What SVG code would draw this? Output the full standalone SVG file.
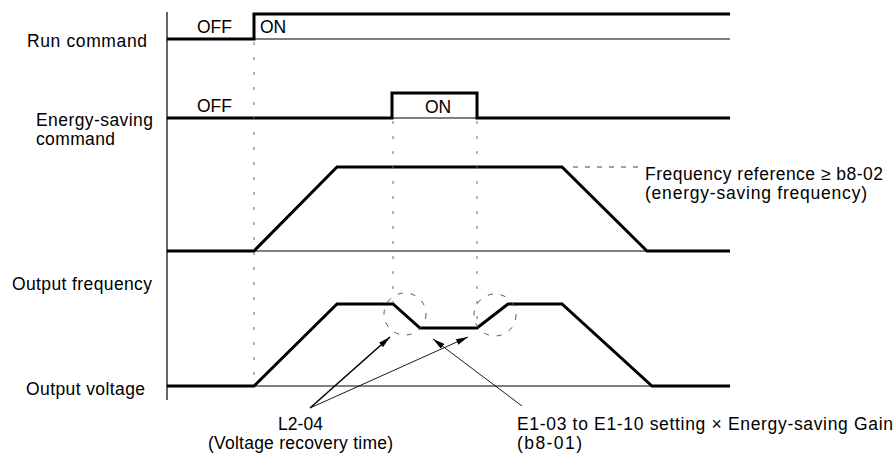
<svg xmlns="http://www.w3.org/2000/svg" width="895" height="455" viewBox="0 0 895 455">
<defs>
<style>
text{font-family:"Liberation Sans",Arial,sans-serif;font-size:17.5px;fill:#000}
.axis{stroke:#000;stroke-width:1.2;fill:none}
.sig{stroke:#000;stroke-width:3;fill:none;stroke-linejoin:miter}
.vd{stroke:#666;stroke-width:1;stroke-dasharray:3 12;fill:none}
.hd{stroke:#444;stroke-width:1;stroke-dasharray:5 7;fill:none}
.cd{stroke:#555;stroke-width:1;stroke-dasharray:5 8;fill:none}
.arr{stroke:#000;fill:none}
</style>
<marker id="ah" viewBox="0 0 12 6" refX="12" refY="3" markerWidth="12" markerHeight="6" markerUnits="userSpaceOnUse" orient="auto">
<path d="M0,0 L12,3 L0,6 z" fill="#000"/>
</marker>
</defs>
<rect width="895" height="455" fill="#fff"/>
<g id="labels">
<text x="27" y="47" textLength="120" lengthAdjust="spacing">Run command</text>
<text x="36" y="126" textLength="117" lengthAdjust="spacing">Energy-saving</text>
<text x="36" y="145" textLength="79" lengthAdjust="spacing">command</text>
<text x="12" y="290" textLength="140" lengthAdjust="spacing">Output frequency</text>
<text x="26" y="395" textLength="119" lengthAdjust="spacing">Output voltage</text>
</g>
<g id="axes">
<line class="axis" x1="167" y1="12" x2="167" y2="400" stroke-width="1.5"/>
<line class="axis" x1="167" y1="39" x2="730" y2="39"/>
<line class="axis" x1="167" y1="118" x2="730" y2="118"/>
<line class="axis" x1="167" y1="251" x2="730" y2="251"/>
<line class="axis" x1="167" y1="386" x2="730" y2="386"/>
</g>
<g id="run-command">
<polyline class="sig" points="167,39 254,39 254,14 730,14"/>
<text x="197" y="33" textLength="35" lengthAdjust="spacing">OFF</text>
<text x="260" y="33">ON</text>
</g>
<g id="energy-saving-command">
<polyline class="sig" points="167,118 392,118 392,93 477,93 477,118 730,118"/>
<text x="197" y="112" textLength="35" lengthAdjust="spacing">OFF</text>
<text x="425" y="113">ON</text>
</g>
<g id="frequency-reference">
<polyline class="sig" points="167,251 254,251 337,167 562,167 647,251 730,251"/>
<line class="hd" x1="573" y1="167" x2="643" y2="167"/>
<text x="645" y="180" textLength="238" lengthAdjust="spacing">Frequency reference ≥ b8-02</text>
<text x="645" y="199" textLength="222" lengthAdjust="spacing">(energy-saving frequency)</text>
</g>
<g id="output">
<polyline class="sig" points="167,386 254,386 337,304 393,304 420,328 477,328 508,304 562,304 652,386 730,386"/>
</g>
<g id="timing-guides">
<line class="vd" x1="254" y1="42" x2="254" y2="384"/>
<line class="vd" x1="393" y1="121" x2="393" y2="302"/>
<line class="vd" x1="477" y1="121" x2="477" y2="326"/>
<circle class="cd" cx="405" cy="314" r="21"/>
<circle class="cd" cx="495" cy="315" r="21"/>
</g>
<g id="connectors">
<line class="arr" x1="310" y1="408" x2="390" y2="337" stroke-width="1.6" marker-end="url(#ah)"/>
<line class="arr" x1="310" y1="408" x2="468" y2="337" stroke-width="0.9" marker-end="url(#ah)"/>
<line class="arr" x1="522" y1="406" x2="433" y2="339" stroke-width="0.9" marker-end="url(#ah)"/>
</g>
<g id="annotation-l2-04">
<text x="278" y="430" textLength="45" lengthAdjust="spacing">L2-04</text>
<text x="208" y="449" textLength="185" lengthAdjust="spacing">(Voltage recovery time)</text>
</g>
<g id="annotation-e1">
<text x="517" y="430" textLength="376" lengthAdjust="spacing">E1-03 to E1-10 setting × Energy-saving Gain</text>
<text x="517" y="449" textLength="65" lengthAdjust="spacing">(b8-01)</text>
</g>
</svg>
